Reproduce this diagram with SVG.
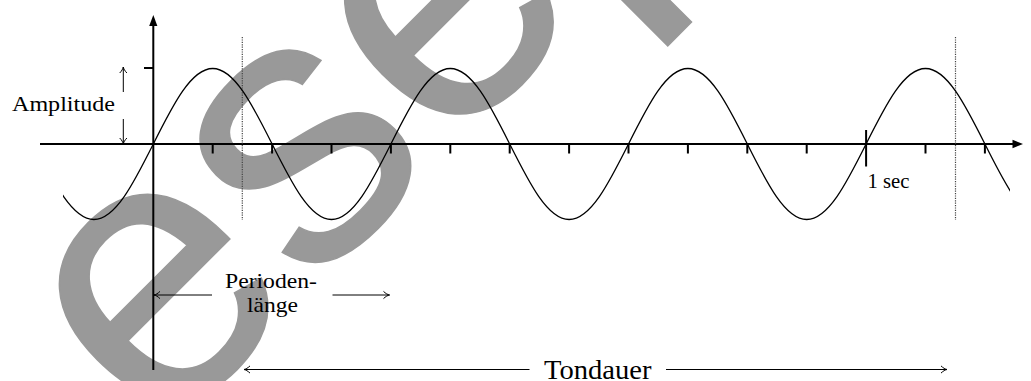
<svg xmlns="http://www.w3.org/2000/svg" width="1031" height="381" viewBox="0 0 1031 381">
  <style>
    .wm { font-family: "Liberation Sans", Arial, sans-serif; fill: #999999; }
    .lbl { font-family: "Liberation Serif", "DejaVu Serif", serif; fill: #000; }
    .axis { stroke: #000; stroke-width: 2; fill: none; }
    .tick { stroke: #000; stroke-width: 2; }
    .curve { stroke: #000; stroke-width: 1.3; fill: none; }
    .dot { stroke: #444; stroke-width: 1.2; stroke-dasharray: 1.2 1.2; }
    .arr { stroke: #000; stroke-width: 1; fill: none; marker-end: url(#ah); }
  </style>
  <defs>
    <marker id="ah" viewBox="-7 -5 8 10" refX="0" refY="0" markerWidth="8" markerHeight="10" markerUnits="userSpaceOnUse" orient="auto">
      <path d="M-6,-3.6 C-4,-1.6 -1.6,-0.3 0,0 C-1.6,0.3 -4,1.6 -6,3.6" fill="none" stroke="#000" stroke-width="1"/>
    </marker>
    <clipPath id="cclip">
      <rect x="63" y="0" width="947" height="381"/>
    </clipPath>
  </defs>

  <g id="watermark">
    <text class="wm" font-size="382" stroke="#999999" stroke-width="1.5" transform="translate(158,443.5) rotate(-45)">esep</text>
  </g>

  <g id="axes">
    <line class="axis" x1="40" y1="144" x2="1013" y2="144"/>
    <polygon points="1023,144 1012.5,139.8 1012.5,148.2" fill="#000"/>
    <line class="axis" x1="153.3" y1="370" x2="153.3" y2="25"/>
    <polygon points="153.3,15 149.2,26 157.4,26" fill="#000"/>
    <line class="tick" x1="144" y1="68" x2="153.3" y2="68"/>
  </g>

  <g id="ticks">
    <line class="tick" x1="212.7" y1="144" x2="212.7" y2="153.5"/>
    <line class="tick" x1="272.1" y1="144" x2="272.1" y2="153.5"/>
    <line class="tick" x1="331.5" y1="144" x2="331.5" y2="153.5"/>
    <line class="tick" x1="390.9" y1="144" x2="390.9" y2="153.5"/>
    <line class="tick" x1="450.3" y1="144" x2="450.3" y2="153.5"/>
    <line class="tick" x1="509.7" y1="144" x2="509.7" y2="153.5"/>
    <line class="tick" x1="569.1" y1="144" x2="569.1" y2="153.5"/>
    <line class="tick" x1="628.5" y1="144" x2="628.5" y2="153.5"/>
    <line class="tick" x1="687.9" y1="144" x2="687.9" y2="153.5"/>
    <line class="tick" x1="747.3" y1="144" x2="747.3" y2="153.5"/>
    <line class="tick" x1="806.7" y1="144" x2="806.7" y2="153.5"/>
    <line class="tick" x1="866.1" y1="130" x2="866.1" y2="166.5"/>
    <line class="tick" x1="925.5" y1="144" x2="925.5" y2="153.5"/>
    <line class="tick" x1="984.9" y1="144" x2="984.9" y2="153.5"/>
  </g>

  <g id="guides">
    <line class="dot" x1="242.3" y1="37" x2="242.3" y2="220"/>
    <line class="dot" x1="955.5" y1="37" x2="955.5" y2="220"/>
  </g>

  <g id="sine" clip-path="url(#cclip)">
    <path class="curve" d="M34.5,144
      C54.36,183.64 72.52,219.5 93.9,219.5
      C115.28,219.5 133.44,183.64 153.3,144
      C173.16,104.36 191.32,68.5 212.7,68.5
      C234.08,68.5 252.24,104.36 272.1,144
      C291.96,183.64 310.12,219.5 331.5,219.5
      C352.88,219.5 371.04,183.64 390.9,144
      C410.76,104.36 428.92,68.5 450.3,68.5
      C471.68,68.5 489.84,104.36 509.7,144
      C529.56,183.64 547.72,219.5 569.1,219.5
      C590.48,219.5 608.64,183.64 628.5,144
      C648.36,104.36 666.52,68.5 687.9,68.5
      C709.28,68.5 727.44,104.36 747.3,144
      C767.16,183.64 785.32,219.5 806.7,219.5
      C828.08,219.5 846.24,183.64 866.1,144
      C885.96,104.36 904.12,68.5 925.5,68.5
      C946.88,68.5 965.04,104.36 984.9,144
      C1004.76,183.64 1022.92,219.5 1044.3,219.5"/>
  </g>

  <g id="connectors">
    <line class="arr" x1="123.3" y1="92" x2="123.3" y2="67"/>
    <line class="arr" x1="123.3" y1="119" x2="123.3" y2="144"/>
    <line class="arr" x1="212" y1="295" x2="154" y2="295"/>
    <line class="arr" x1="332.5" y1="295" x2="389.5" y2="295"/>
    <line class="arr" x1="529.5" y1="369.5" x2="244" y2="369.5"/>
    <line class="arr" x1="666" y1="369.5" x2="947" y2="369.5"/>
  </g>

  <g id="label-amplitude">
    <text class="lbl" x="12" y="111" font-size="22" textLength="103" lengthAdjust="spacingAndGlyphs">Amplitude</text>
  </g>
  <g id="label-periode">
    <text class="lbl" x="225" y="288" font-size="22" textLength="92" lengthAdjust="spacingAndGlyphs">Perioden-</text>
    <text class="lbl" x="247" y="312" font-size="22" textLength="51" lengthAdjust="spacingAndGlyphs">länge</text>
  </g>
  <g id="label-sec">
    <text class="lbl" x="867.5" y="187.5" font-size="20" textLength="42" lengthAdjust="spacingAndGlyphs">1 sec</text>
  </g>
  <g id="label-tondauer">
    <text class="lbl" x="544" y="379" font-size="27" textLength="107.5" lengthAdjust="spacingAndGlyphs">Tondauer</text>
  </g>
</svg>
